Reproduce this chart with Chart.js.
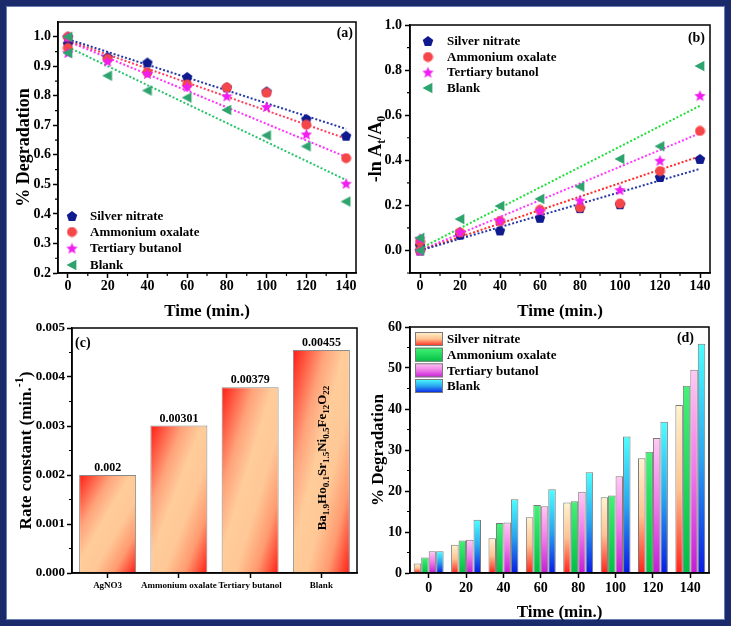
<!DOCTYPE html>
<html>
<head>
<meta charset="utf-8">
<script src="https://cdn.jsdelivr.net/npm/chart.js@4.4.0/dist/chart.umd.min.js"></script>
<style>
  html, body { margin: 0; padding: 0; background: #fff; }
  body { width: 732px; height: 631px; position: relative; overflow: hidden; }
  #frame { position: absolute; left: 0; top: 0; width: 731px; height: 626px; box-sizing: border-box;
           border: 6px solid #1b2a6b; box-shadow: inset 0 0 0 1px #6b7db5; }
  canvas { position: absolute; }
</style>
</head>
<body>
<div id="frame"></div>
<canvas id="chartA" width="358" height="314" style="left:8px;top:8px"></canvas>
<canvas id="chartB" width="360" height="314" style="left:366px;top:8px"></canvas>
<canvas id="chartC" width="358" height="309" style="left:8px;top:314px"></canvas>
<canvas id="chartD" width="360" height="309" style="left:366px;top:314px"></canvas>
<script>
// ---- data ----
const seriesNames = ['Silver nitrate', 'Ammonium oxalate', 'Tertiary butanol', 'Blank']
const timePoints = [0, 0, 20, 40, 60, 80, 100, 120, 140]
const timeTicks = [0, 20, 40, 60, 80, 100, 120, 140]
const timeCats = ['0', '20', '40', '60', '80', '100', '120', '140']
const fitTimes = [0, 140]

// (a) remaining fraction
const silverA = [1.0, 0.977, 0.932, 0.913, 0.864, 0.829, 0.815, 0.722, 0.665]
const ammoniumA = [1.0, 0.962, 0.925, 0.879, 0.838, 0.828, 0.81, 0.702, 0.589]
const tertiaryA = [1.0, 0.947, 0.918, 0.876, 0.832, 0.80, 0.764, 0.671, 0.504]
const blankA = [1.0, 0.945, 0.868, 0.818, 0.794, 0.752, 0.666, 0.629, 0.442]
const silverFitA = [0.992, 0.688]
const ammoniumFitA = [0.987, 0.655]
const tertiaryFitA = [0.985, 0.593]
const blankFitA = [0.965, 0.515]
const yTicksA = [0.2, 0.3, 0.4, 0.5, 0.6, 0.7, 0.8, 0.9, 1.0]

// (b) -ln At/A0
const silverB = [0, 0.023, 0.07, 0.089, 0.145, 0.188, 0.205, 0.326, 0.406]
const ammoniumB = [0, 0.039, 0.08, 0.13, 0.18, 0.19, 0.208, 0.352, 0.53]
const tertiaryB = [0, 0.054, 0.083, 0.134, 0.178, 0.223, 0.27, 0.40, 0.688]
const blankB = [0, 0.056, 0.139, 0.197, 0.229, 0.283, 0.406, 0.462, 0.818]
const silverFitB = [0.0, 0.362]
const ammoniumFitB = [0.0, 0.418]
const tertiaryFitB = [0.0, 0.52]
const blankFitB = [0.008, 0.642]
const yTicksB = [0, 0.2, 0.4, 0.6, 0.8, 1.0]

// (c) rate constants
const rateLabels = ['AgNO3', 'Ammonium oxalate', 'Tertiary butanol', 'Blank']
const rateValues = [0.002, 0.00301, 0.00379, 0.00455]
const yTicksC = [0, 0.001, 0.002, 0.003, 0.004, 0.005]

// (d) % degradation
const silverD = [2.3, 6.9, 8.5, 13.6, 17.2, 18.5, 28.0, 41.0]
const ammoniumD = [3.8, 7.9, 12.2, 16.6, 17.5, 18.9, 29.6, 45.7]
const tertiaryD = [5.3, 8.1, 12.3, 16.3, 19.8, 23.6, 32.9, 49.6]
const blankD = [5.3, 13.0, 18.0, 20.4, 24.6, 33.3, 36.9, 55.9]
const yTicksD = [0, 10, 20, 30, 40, 50, 60]

// ---- styling ----
const FONT = '"Liberation Serif", "Times New Roman", serif'
Chart.defaults.font.family = FONT
Chart.defaults.font.weight = 'bold'
Chart.defaults.font.size = 14
Chart.defaults.color = '#000'
Chart.defaults.animation = false

const markerColors = ['#0f1a8f', '#f5474a', '#f01ef0', '#2ea36e']
const fitColorsA = ['#2637a8', '#ff3f5e', '#ff30ff', '#27c46a']
const fitColorsB = ['#2637a8', '#ff2a2a', '#ff38ff', '#22dd3c']

// filled marker shapes drawn on small canvases
function makeMarker(kind, color, size) {
  const c = document.createElement('canvas')
  c.width = size
  c.height = size
  const g = c.getContext('2d')
  const r = size / 2 - 0.5
  const cx = size / 2
  const cy = size / 2
  g.fillStyle = color
  g.beginPath()
  if (kind === 'circle') {
    g.arc(cx, cy, r, 0, Math.PI * 2)
  } else if (kind === 'pentagon') {
    for (let i = 0; i < 5; i++) {
      const a = -Math.PI / 2 + i * 2 * Math.PI / 5
      g.lineTo(cx + r * Math.cos(a), cy + 0.6 + r * Math.sin(a))
    }
  } else if (kind === 'star') {
    for (let i = 0; i < 10; i++) {
      const a = -Math.PI / 2 + i * Math.PI / 5
      const rr = i % 2 ? r * 0.45 : r
      g.lineTo(cx + rr * Math.cos(a), cy + 0.8 + rr * Math.sin(a))
    }
  } else {
    g.moveTo(cx - r, cy)
    g.lineTo(cx + r * 0.8, cy - r * 0.95)
    g.lineTo(cx + r * 0.8, cy + r * 0.95)
  }
  g.closePath()
  g.fill()
  return c
}

const markers = [
  makeMarker('pentagon', markerColors[0], 12),
  makeMarker('circle', markerColors[1], 11),
  makeMarker('star', markerColors[2], 13),
  makeMarker('left', markerColors[3], 12)
]

function toPoints(xs, ys) {
  return ys.map((y, i) => ({ x: xs[i], y: y }))
}

function midpoints(ticks) {
  const out = []
  for (let i = 0; i < ticks.length - 1; i++) out.push((ticks[i] + ticks[i + 1]) / 2)
  return out
}

// text with sub/superscripts, centred at (x, y)
function drawRich(ctx, parts, x, y, size, rotate) {
  ctx.save()
  ctx.translate(x, y)
  if (rotate) ctx.rotate(-Math.PI / 2)
  ctx.fillStyle = '#000'
  ctx.textBaseline = 'alphabetic'
  ctx.textAlign = 'left'
  const fontFor = p => 'bold ' + ((p.sub || p.sup) ? Math.round(size * 0.68) : size) + 'px ' + FONT
  let total = 0
  parts.forEach(p => { ctx.font = fontFor(p); total += ctx.measureText(p.t).width })
  let cx = -total / 2
  parts.forEach(p => {
    ctx.font = fontFor(p)
    let dy = size * 0.33
    if (p.sub) dy += size * 0.22
    if (p.sup) dy -= size * 0.42
    ctx.fillText(p.t, cx, dy)
    cx += ctx.measureText(p.t).width
  })
  ctx.restore()
}

// box around the plot and small minor ticks
function framePlugin(xMinor, yMinor) {
  return {
    id: 'frame',
    afterDraw(chart) {
      const { ctx, chartArea: a, scales } = chart
      ctx.save()
      ctx.strokeStyle = '#000'
      ctx.lineWidth = 1.5
      ctx.strokeRect(a.left, a.top, a.right - a.left, a.bottom - a.top)
      ctx.lineWidth = 1.2
      ctx.beginPath()
      xMinor.forEach(v => {
        const px = scales.x.getPixelForValue(v)
        ctx.moveTo(px, a.bottom)
        ctx.lineTo(px, a.bottom + 3)
      })
      yMinor.forEach(v => {
        const py = scales.y.getPixelForValue(v)
        ctx.moveTo(a.left, py)
        ctx.lineTo(a.left - 3, py)
      })
      ctx.stroke()
      ctx.restore()
    }
  }
}

function cornerLabel(text, x, y, align) {
  return {
    id: 'corner',
    afterDraw(chart) {
      const ctx = chart.ctx
      ctx.save()
      ctx.font = 'bold 14px ' + FONT
      ctx.fillStyle = '#000'
      ctx.textAlign = align
      ctx.textBaseline = 'middle'
      ctx.fillText(text, x, y)
      ctx.restore()
    }
  }
}

function markerLegend(x, textX, rows) {
  return {
    id: 'markerLegend',
    afterDraw(chart) {
      const ctx = chart.ctx
      ctx.save()
      ctx.font = 'bold 13px ' + FONT
      ctx.fillStyle = '#000'
      ctx.textBaseline = 'middle'
      seriesNames.forEach((name, i) => {
        const m = markers[i]
        ctx.drawImage(m, x - m.width / 2, rows[i] - m.height / 2)
        ctx.fillText(name, textX, rows[i] + 1)
      })
      ctx.restore()
    }
  }
}

function linearScales(opts) {
  return {
    x: {
      type: 'linear', min: -5, max: 145,
      afterBuildTicks: axis => { axis.ticks = timeTicks.map(v => ({ value: v })) },
      afterFit: axis => { axis.height = opts.xHeight },
      grid: { drawOnChartArea: false, tickLength: 5, tickColor: '#000', tickWidth: 1.5 },
      border: { color: '#000', width: 1.5 },
      ticks: { padding: 0, maxRotation: 0, autoSkip: false, font: { size: 14 }, callback: v => String(v) },
      title: { display: true, text: 'Time (min.)', font: { size: 17 }, padding: { top: 0, bottom: 0 } }
    },
    y: {
      type: 'linear', min: opts.yMin, max: opts.yMax,
      afterBuildTicks: axis => { axis.ticks = opts.yTicks.map(v => ({ value: v })) },
      afterFit: axis => { axis.width = opts.yWidth },
      grid: { drawOnChartArea: false, tickLength: 5, tickColor: '#000', tickWidth: 1.5 },
      border: { color: '#000', width: 1.5 },
      ticks: { padding: opts.yPad, autoSkip: false, font: { size: 14 }, callback: v => v.toFixed(1) },
      title: opts.yTitle
        ? { display: true, text: opts.yTitle, font: { size: 18 }, padding: { top: 6, bottom: 0 } }
        : { display: false }
    }
  }
}

function scatterSets(ys, fits, fitColors) {
  const sets = []
  ys.forEach((arr, i) => {
    sets.push({
      label: seriesNames[i],
      data: toPoints(timePoints, arr),
      pointStyle: markers[i],
      pointRadius: 6,
      order: 4 - i
    })
  })
  fits.forEach((arr, i) => {
    sets.push({
      label: seriesNames[i] + ' fit',
      data: toPoints(fitTimes, arr),
      showLine: true,
      pointRadius: 0,
      borderColor: fitColors[i],
      borderWidth: 2,
      borderDash: [2, 2],
      order: 10
    })
  })
  return sets
}

// ---- (a) ----
new Chart(document.getElementById('chartA'), {
  type: 'scatter',
  data: { datasets: scatterSets([silverA, ammoniumA, tertiaryA, blankA], [silverFitA, ammoniumFitA, tertiaryFitA, blankFitA], fitColorsA) },
  options: {
    responsive: false,
    events: [],
    layout: { padding: { left: 0, right: 10, top: 14, bottom: 0 } },
    plugins: { legend: { display: false }, tooltip: { enabled: false } },
    scales: linearScales({ xHeight: 49, yWidth: 50, yMin: 0.2, yMax: 1.05, yTicks: yTicksA, yPad: 2, yTitle: '% Degradation' })
  },
  plugins: [
    framePlugin(midpoints(timeTicks), midpoints(yTicksA)),
    markerLegend(64, 82, [208, 224, 240, 257]),
    cornerLabel('(a)', 345, 25, 'right')
  ]
})

// ---- (b) ----
new Chart(document.getElementById('chartB'), {
  type: 'scatter',
  data: { datasets: scatterSets([silverB, ammoniumB, tertiaryB, blankB], [silverFitB, ammoniumFitB, tertiaryFitB, blankFitB], fitColorsB) },
  options: {
    responsive: false,
    events: [],
    layout: { padding: { left: 0, right: 16, top: 17, bottom: 0 } },
    plugins: { legend: { display: false }, tooltip: { enabled: false } },
    scales: linearScales({ xHeight: 49, yWidth: 44, yMin: -0.1, yMax: 1.0, yTicks: yTicksB, yPad: 3 })
  },
  plugins: [
    framePlugin(midpoints(timeTicks), [-0.1].concat(midpoints(yTicksB))),
    markerLegend(62, 81, [33, 49, 64, 80]),
    cornerLabel('(b)', 339, 30, 'right'),
    {
      id: 'yTitleB',
      afterDraw(chart) {
        const a = chart.chartArea
        drawRich(chart.ctx, [{ t: '-ln A' }, { t: 't', sub: true }, { t: '/A' }, { t: '0', sub: true }], 9, (a.top + a.bottom) / 2, 18, true)
      }
    }
  ]
})

// ---- (c) ----
const barStopsC = [[0, '#ff1c14'], [0.28, '#ffa27a'], [0.45, '#ffcc9a'], [0.62, '#ffc896'], [0.8, '#ff9a70'], [1, '#ff1c14']]

function rateFill(context) {
  const chart = context.chart
  const xs = chart.scales.x
  const ys = chart.scales.y
  if (!xs || !ys || !xs.width || context.raw == null) return '#ffc896'
  const half = xs.width / rateValues.length * 0.8 / 2
  const cx = xs.getPixelForValue(context.dataIndex)
  const left = cx - half
  const top = ys.getPixelForValue(context.raw)
  const w = half * 2
  const h = Math.max(ys.getPixelForValue(0) - top, 1)
  const vx = 0.5 / w
  const vy = 0.5 / h
  const n2 = vx * vx + vy * vy
  const g = chart.ctx.createLinearGradient(left, top, left + vx / n2, top + vy / n2)
  barStopsC.forEach(s => g.addColorStop(s[0], s[1]))
  return g
}

new Chart(document.getElementById('chartC'), {
  type: 'bar',
  data: {
    labels: rateLabels,
    datasets: [{
      label: 'Rate constant',
      data: rateValues,
      backgroundColor: rateFill,
      borderColor: '#8a8a8a',
      borderWidth: 1,
      barPercentage: 0.8,
      categoryPercentage: 1
    }]
  },
  options: {
    responsive: false,
    events: [],
    layout: { padding: { left: 0, right: 9, top: 14, bottom: 0 } },
    plugins: { legend: { display: false }, tooltip: { enabled: false } },
    scales: {
      x: {
        afterFit: axis => { axis.height = 50 },
        grid: { offset: false, drawOnChartArea: false, tickLength: 5, tickColor: '#000', tickWidth: 1.5 },
        border: { color: '#000', width: 1.5 },
        ticks: { padding: 2, maxRotation: 0, autoSkip: false, font: { size: 9 } }
      },
      y: {
        min: 0, max: 0.005,
        afterBuildTicks: axis => { axis.ticks = yTicksC.map(v => ({ value: v })) },
        afterFit: axis => { axis.width = 64 },
        grid: { drawOnChartArea: false, tickLength: 5, tickColor: '#000', tickWidth: 1.5 },
        border: { color: '#000', width: 1.5 },
        ticks: { padding: 2, autoSkip: false, font: { size: 13 }, callback: v => v.toFixed(3) }
      }
    }
  },
  plugins: [
    framePlugin([], midpoints(yTicksC)),
    cornerLabel('(c)', 67, 29, 'left'),
    {
      id: 'rateText',
      afterDatasetsDraw(chart) {
        const ctx = chart.ctx
        const bars = chart.getDatasetMeta(0).data
        ctx.save()
        ctx.font = 'bold 12px ' + FONT
        ctx.fillStyle = '#000'
        ctx.textAlign = 'center'
        ctx.textBaseline = 'bottom'
        bars.forEach((bar, i) => ctx.fillText(String(rateValues[i]), bar.x, bar.y - 1))
        ctx.restore()
        const last = bars[bars.length - 1]
        drawRich(ctx, [
          { t: 'Ba' }, { t: '1.9', sub: true }, { t: 'Ho' }, { t: '0.1', sub: true },
          { t: 'Sr' }, { t: '1.5', sub: true }, { t: 'Ni' }, { t: '0.5', sub: true },
          { t: 'Fe' }, { t: '12', sub: true }, { t: 'O' }, { t: '22', sub: true }
        ], last.x, 144, 13, true)
      }
    },
    {
      id: 'yTitleC',
      afterDraw(chart) {
        const a = chart.chartArea
        drawRich(chart.ctx, [{ t: 'Rate constant (min.' }, { t: '-1', sup: true }, { t: ')' }], 17, (a.top + a.bottom) / 2, 17, true)
      }
    }
  ]
})

// ---- (d) ----
const barColorsD = [
  [[0, '#fff4cf'], [0.5, '#ffc290'], [1, '#ff2418']],
  [[0, '#44f276'], [1, '#00bf44']],
  [[0, '#ffcaf4'], [0.5, '#f07ae8'], [1, '#c41cd6']],
  [[0, '#4cffff'], [0.5, '#2aa6f0'], [1, '#0a1ce4']]
]

function vGrad(ctx2d, top, bottom, stops) {
  const g = ctx2d.createLinearGradient(0, top, 0, bottom)
  stops.forEach(s => g.addColorStop(s[0], s[1]))
  return g
}

function degFill(k) {
  return function(context) {
    const chart = context.chart
    const ys = chart.scales.y
    if (!ys || !ys.height || context.raw == null) return barColorsD[k][0][1]
    const top = ys.getPixelForValue(context.raw)
    const base = ys.getPixelForValue(0)
    return vGrad(chart.ctx, top, Math.max(base, top + 1), barColorsD[k])
  }
}

new Chart(document.getElementById('chartD'), {
  type: 'bar',
  data: {
    labels: timeCats,
    datasets: [silverD, ammoniumD, tertiaryD, blankD].map((arr, k) => ({
      label: seriesNames[k],
      data: arr,
      backgroundColor: degFill(k),
      borderColor: '#7a7a7a',
      borderWidth: 1,
      barPercentage: 1,
      categoryPercentage: 0.8
    }))
  },
  options: {
    responsive: false,
    events: [],
    layout: { padding: { left: 0, right: 17, top: 13, bottom: 0 } },
    plugins: { legend: { display: false }, tooltip: { enabled: false } },
    scales: {
      x: {
        afterFit: axis => { axis.height = 50 },
        grid: { offset: false, drawOnChartArea: false, tickLength: 5, tickColor: '#000', tickWidth: 1.5 },
        border: { color: '#000', width: 1.5 },
        ticks: { padding: 2, maxRotation: 0, autoSkip: false, font: { size: 14 } },
        title: { display: true, text: 'Time (min.)', font: { size: 17 }, padding: { top: 0, bottom: 0 } }
      },
      y: {
        min: 0, max: 60,
        afterBuildTicks: axis => { axis.ticks = yTicksD.map(v => ({ value: v })) },
        afterFit: axis => { axis.width = 44 },
        grid: { drawOnChartArea: false, tickLength: 5, tickColor: '#000', tickWidth: 1.5 },
        border: { color: '#000', width: 1.5 },
        ticks: { padding: 3, autoSkip: false, font: { size: 14 }, callback: v => String(v) },
        title: { display: true, text: '% Degradation', font: { size: 17 }, padding: { top: 2, bottom: 0 } }
      }
    }
  },
  plugins: [
    framePlugin([], midpoints(yTicksD)),
    cornerLabel('(d)', 328, 24, 'right'),
    {
      id: 'swatchLegend',
      afterDraw(chart) {
        const ctx = chart.ctx
        const rows = [25, 40.7, 56.3, 72]
        ctx.save()
        ctx.font = 'bold 13px ' + FONT
        ctx.textBaseline = 'middle'
        seriesNames.forEach((name, k) => {
          const top = rows[k] - 7
          ctx.fillStyle = vGrad(ctx, top, top + 14, barColorsD[k])
          ctx.fillRect(49, top, 28, 14)
          ctx.strokeStyle = '#7a7a7a'
          ctx.lineWidth = 1
          ctx.strokeRect(49.5, top + 0.5, 27, 13)
          ctx.fillStyle = '#000'
          ctx.fillText(name, 81, rows[k] + 1)
        })
        ctx.restore()
      }
    }
  ]
})
</script>
</body>
</html>
